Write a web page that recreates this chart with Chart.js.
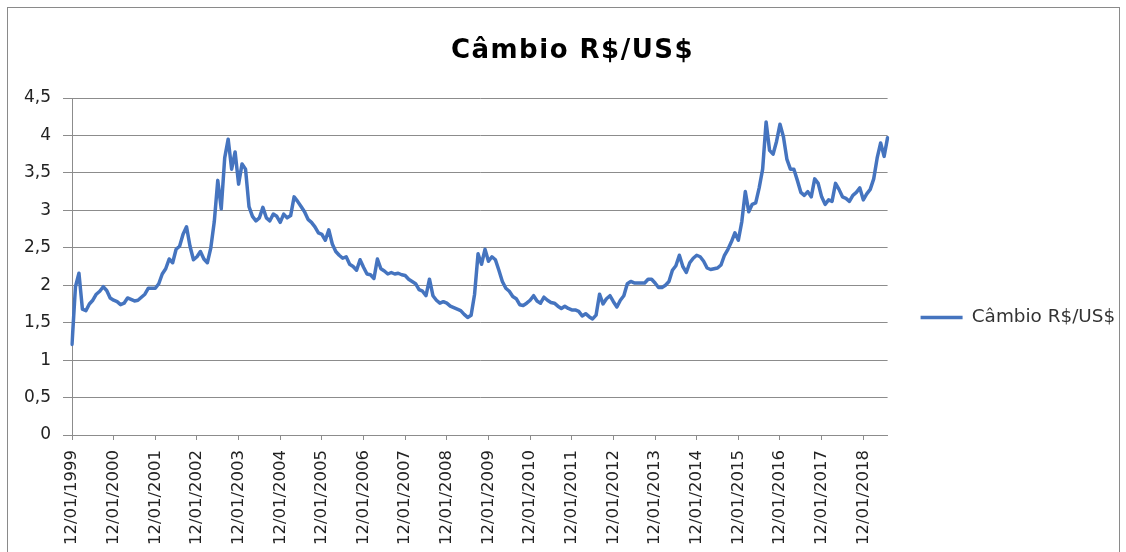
<!DOCTYPE html>
<html>
<head>
<meta charset="utf-8">
<script src="https://cdn.jsdelivr.net/npm/chart.js@4.4.1/dist/chart.umd.min.js"></script>
<style>
  html, body { margin: 0; padding: 0; background: #ffffff; }
  #wrap { width: 1126px; height: 552px; position: relative; }
</style>
</head>
<body>
<div id="wrap"><canvas id="c" width="1126" height="552"></canvas></div>
<script>
// ---- data (monthly readings, day 12 of each month) ----
const seriesName = 'Câmbio R$/US$';
const chartTitle = 'Câmbio R$/US$';
const years = [1999, 2000, 2001, 2002, 2003, 2004, 2005, 2006, 2007, 2008, 2009,
               2010, 2011, 2012, 2013, 2014, 2015, 2016, 2017, 2018];
const monthCodes = ['01','02','03','04','05','06','07','08','09','10','11','12'];
const yTickValues = [0, 0.5, 1, 1.5, 2, 2.5, 3, 3.5, 4, 4.5];

const v1999 = [1.21, 1.98, 2.16, 1.68, 1.66, 1.75, 1.80, 1.88, 1.92, 1.98, 1.93, 1.83];
const v2000 = [1.80, 1.78, 1.74, 1.76, 1.83, 1.81, 1.79, 1.80, 1.84, 1.88, 1.96, 1.96];
const v2001 = [1.96, 2.02, 2.15, 2.22, 2.35, 2.30, 2.48, 2.52, 2.68, 2.78, 2.52, 2.34];
const v2002 = [2.38, 2.45, 2.35, 2.30, 2.50, 2.85, 3.40, 3.02, 3.70, 3.95, 3.55, 3.78];
const v2003 = [3.35, 3.62, 3.55, 3.05, 2.92, 2.86, 2.90, 3.04, 2.90, 2.86, 2.95, 2.92];
const v2004 = [2.84, 2.95, 2.90, 2.93, 3.18, 3.12, 3.05, 2.98, 2.88, 2.84, 2.78, 2.70];
const v2005 = [2.68, 2.60, 2.74, 2.55, 2.45, 2.40, 2.36, 2.38, 2.28, 2.25, 2.20, 2.34];
const v2006 = [2.24, 2.15, 2.14, 2.09, 2.35, 2.22, 2.19, 2.15, 2.17, 2.15, 2.16, 2.14];
const v2007 = [2.13, 2.08, 2.05, 2.02, 1.94, 1.92, 1.86, 2.08, 1.86, 1.80, 1.76, 1.78];
const v2008 = [1.76, 1.72, 1.70, 1.68, 1.66, 1.61, 1.57, 1.60, 1.88, 2.42, 2.28, 2.48];
const v2009 = [2.32, 2.38, 2.34, 2.20, 2.05, 1.96, 1.92, 1.85, 1.82, 1.74, 1.73, 1.76];
const v2010 = [1.80, 1.86, 1.79, 1.76, 1.84, 1.80, 1.77, 1.76, 1.72, 1.69, 1.72, 1.69];
const v2011 = [1.67, 1.67, 1.65, 1.59, 1.62, 1.58, 1.55, 1.60, 1.88, 1.75, 1.82, 1.86];
const v2012 = [1.78, 1.71, 1.80, 1.86, 2.02, 2.05, 2.03, 2.03, 2.03, 2.03, 2.08, 2.08];
const v2013 = [2.03, 1.97, 1.97, 2.00, 2.05, 2.20, 2.26, 2.40, 2.25, 2.17, 2.30, 2.36];
const v2014 = [2.40, 2.38, 2.32, 2.23, 2.21, 2.22, 2.23, 2.27, 2.40, 2.48, 2.58, 2.70];
const v2015 = [2.60, 2.85, 3.25, 2.98, 3.08, 3.10, 3.30, 3.55, 4.18, 3.80, 3.75, 3.92];
const v2016 = [4.15, 3.98, 3.68, 3.55, 3.55, 3.40, 3.24, 3.20, 3.25, 3.18, 3.42, 3.36];
const v2017 = [3.18, 3.08, 3.14, 3.12, 3.36, 3.28, 3.18, 3.16, 3.12, 3.20, 3.24, 3.30];
const v2018 = [3.14, 3.22, 3.28, 3.42, 3.70, 3.90, 3.72, 3.97];

const yearlyValues = [v1999, v2000, v2001, v2002, v2003, v2004, v2005, v2006, v2007, v2008,
                      v2009, v2010, v2011, v2012, v2013, v2014, v2015, v2016, v2017, v2018];

// build category labels (dd/mm/yyyy) and the flat value list
const categories = [];
const values = [];
years.forEach((y, yi) => {
  yearlyValues[yi].forEach((v, mi) => {
    categories.push('12/' + monthCodes[mi] + '/' + y);
    values.push(v);
  });
});

const GRID = '#8c8c8c';
const LINE = '#4574bf';

const framePlugin = {
  id: 'frame',
  beforeDraw(chart) {
    const ctx = chart.ctx;
    ctx.save();
    ctx.fillStyle = '#ffffff';
    ctx.fillRect(0, 0, chart.width, chart.height);
    ctx.strokeStyle = '#8a8a8a';
    ctx.lineWidth = 1;
    ctx.strokeRect(7.5, 7.5, 1112, 600);
    ctx.restore();
  }
};

const chart = new Chart(document.getElementById('c'), {
  type: 'line',
  data: {
    labels: categories,
    datasets: [{
      label: seriesName,
      data: values,
      borderColor: LINE,
      backgroundColor: LINE,
      borderWidth: 3.5,
      pointRadius: 0,
      pointHoverRadius: 0,
      tension: 0,
      borderJoinStyle: 'round',
      borderCapStyle: 'round',
      fill: false
    }]
  },
  options: {
    responsive: false,
    animation: false,
    devicePixelRatio: 1,
    layout: { padding: { left: 19.8, right: 0.8, top: 10, bottom: 0 } },
    plugins: {
      title: {
        display: true,
        text: chartTitle,
        color: '#000000',
        font: { family: 'DejaVu Sans', size: 26, weight: 'bold', lineHeight: 1.2 },
        padding: { top: 25.4, bottom: 31.4 }
      },
      legend: {
        display: true,
        position: 'right',
        align: 'center',
        title: { display: true, text: '', font: { size: 12, lineHeight: 1.2 }, padding: { top: 58.6, bottom: 0 } },
        labels: {
          usePointStyle: true,
          pointStyle: 'line',
          pointStyleWidth: 42,
          padding: 33,
          color: '#333333',
          font: { family: 'DejaVu Sans', size: 18.4 }
        }
      },
      tooltip: { enabled: false }
    },
    scales: {
      x: {
        type: 'category',
        offset: false,
        grid: { display: true, drawOnChartArea: false, drawTicks: true, tickLength: 5, color: GRID },
        border: { display: true, color: GRID, width: 1 },
        ticks: {
          autoSkip: false,
          maxRotation: 90,
          minRotation: 90,
          padding: 10,
          color: '#222222',
          font: { family: 'DejaVu Sans', size: 16.5 }
        },
        afterBuildTicks(scale) {
          scale.ticks = scale.ticks.filter(t => t.value % 12 === 0);
        },
        afterFit(scale) { scale.height = 117; }
      },
      y: {
        min: 0,
        max: 4.5,
        grid: { display: true, drawTicks: true, tickLength: 9, color: GRID, lineWidth: 1 },
        border: { display: true, color: GRID, width: 1 },
        ticks: {
          stepSize: 0.5,
          padding: 12,
          color: '#222222',
          font: { family: 'DejaVu Sans', size: 17 },
          callback: (v) => yTickValues.includes(v) ? String(v).replace('.', ',') : null
        },
        afterFit(scale) { scale.width = 52.2; }
      }
    }
  },
  plugins: [framePlugin]
});

// slightly widen the title's letter spacing to match the wide title lettering
if (chart.titleBlock) {
  const tb = chart.titleBlock;
  const origDraw = tb.draw;
  tb.draw = function (...args) {
    const ctx = this.ctx;
    ctx.save();
    if ('letterSpacing' in ctx) ctx.letterSpacing = '1.5px';
    origDraw.apply(this, args);
    ctx.restore();
  };
  chart.draw();
}
</script>
</body>
</html>
